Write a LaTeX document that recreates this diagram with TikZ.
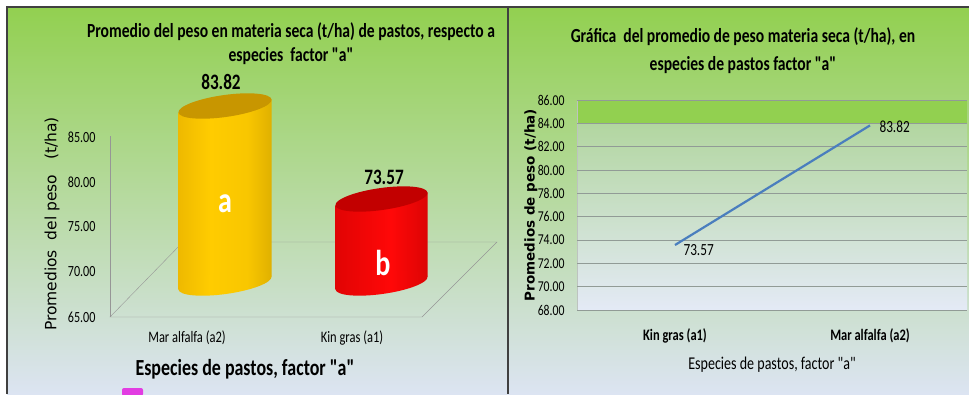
\documentclass[tikz,border=0pt]{standalone}
\usepackage{fontspec}
\usetikzlibrary{calc}
\setmainfont{Carlito}
\newfontfamily\narrowfont[FakeStretch=0.78]{Carlito}
\newfontfamily\verdfont{DejaVu Sans}
\definecolor{bggreen}{RGB}{146,208,80}
\definecolor{bgmid}{RGB}{182,212,190}
\definecolor{bgblue}{RGB}{220,228,242}
\definecolor{goldleft}{RGB}{214,158,0}
\definecolor{goldlight}{RGB}{255,204,0}
\definecolor{goldright}{RGB}{176,134,0}
\definecolor{goldtop}{RGB}{200,150,0}
\definecolor{redleft}{RGB}{200,0,0}
\definecolor{redlight}{RGB}{255,8,8}
\definecolor{redright}{RGB}{176,0,0}
\definecolor{redtop}{RGB}{194,0,0}
\definecolor{floorgray}{RGB}{150,150,150}
\definecolor{gridgray}{RGB}{145,155,150}
\definecolor{plottop}{RGB}{178,214,160}
\definecolor{plotbot}{RGB}{228,234,246}
\definecolor{lineblue}{RGB}{74,126,190}
\definecolor{pinkbox}{RGB}{226,60,226}
\pgfdeclarehorizontalshading{goldcyl}{100bp}{color(0bp)=(goldleft); color(42bp)=(goldlight); color(62bp)=(goldlight!92!goldright); color(100bp)=(goldright)}
\pgfdeclarehorizontalshading{redcyl}{100bp}{color(0bp)=(redleft); color(55bp)=(redlight); color(100bp)=(redright)}
\tikzset{
  frame/.style={draw=black!75,line width=1.2pt},
  charttitle/.style={align=center,font=\narrowfont\bfseries\fontsize{20}{24}\selectfont},
  valnum/.style={font=\narrowfont\bfseries\fontsize{22}{22}\selectfont},
  barletter/.style={text=white,font=\narrowfont\bfseries\fontsize{36}{36}\selectfont},
  ticklab/.style={anchor=east,font=\narrowfont\fontsize{15.5}{15.5}\selectfont},
  catlab/.style={font=\narrowfont\fontsize{16}{16}\selectfont}
}
\begin{document}
\begin{tikzpicture}[x=1pt,y=-1pt]
\useasboundingbox (0,0) rectangle (969,394);
% panels
\shade[top color=bggreen,middle color=bgmid,bottom color=bgblue] (7,7) rectangle (508,394);
\shade[top color=bggreen,middle color=bgmid,bottom color=bgblue] (508,7) rectangle (969,394);
\draw[frame] (7,394) -- (7,7) -- (969,7);
\draw[frame] (508,7) -- (508,394);
\fill[pinkbox,rounded corners=2pt] (122,388) rectangle (143,396);

% left chart: 3d cylinders
\node[charttitle] (ltitle) at (291,44) {Promedio del peso en materia seca (t/ha) de pastos, respecto a\\especies\ \ factor "a"};
\coordinate (f1) at (110,317);
\coordinate (f2) at (422,317);
\coordinate (f3) at (497,242);
\coordinate (f4) at (183,242);
\draw[floorgray] (f1) -- (f2) -- (f3) -- (f4) -- cycle;
\draw[floorgray] (110,136) -- (f1);
\foreach \v [count=\i] in {85.00,80.00,75.00,70.00,65.00}
  \node[ticklab] (lt\i) at (99,{137+45*(\i-1)}) {\v};
\node[rotate=90,font=\verdfont\fontsize{15.5}{15.5}\selectfont] (lytitle) at (52,224) {Promedios\ \ del peso\ \ \ (t/ha)};
% yellow cylinder
\coordinate (ya) at (225,106);
\coordinate (yb) at (225,283);
\shade[shading=goldcyl] ($(ya)+(172:47)$) -- ($(yb)+(172:47)$) -- ($(yb)+(-8:47)$) -- ($(ya)+(-8:47)$) -- cycle;
\shade[shading=goldcyl,rotate around={8:(yb)}] (yb) ellipse[x radius=47,y radius=11];
\fill[goldtop,rotate around={8:(ya)}] (ya) ellipse[x radius=47,y radius=11];
% red cylinder
\coordinate (ra) at (381.5,199);
\coordinate (rb) at (381.5,283);
\shade[shading=redcyl] ($(ra)+(172:46.5)$) -- ($(rb)+(172:46.5)$) -- ($(rb)+(-8:46.5)$) -- ($(ra)+(-8:46.5)$) -- cycle;
\shade[shading=redcyl,rotate around={8:(rb)}] (rb) ellipse[x radius=46.5,y radius=11];
\fill[redtop,rotate around={8:(ra)}] (ra) ellipse[x radius=46.5,y radius=11];
\node[valnum] (lv1) at (221,82) {83.82};
\node[valnum] (lv2) at (384,177) {73.57};
\node[barletter] (la) at (225,204) {a};
\node[barletter] (lb) at (383,263) {b};
\node[catlab] (lc1) at (187,338) {Mar alfalfa (a2)};
\node[catlab] (lc2) at (352,338) {Kin gras (a1)};
\node[font=\narrowfont\bfseries\fontsize{23}{23}\selectfont] (lxtitle) at (245,369) {Especies de pastos, factor "a"};

% right chart: line
\node[charttitle,font=\narrowfont\bfseries\fontsize{20}{28}\selectfont] (rtitle) at (743,51) {Gráfica\ \ del promedio de peso materia seca (t/ha), en\\especies de pastos factor "a"};
\fill[bggreen] (577,100) rectangle (967,123.3);
\shade[top color=plottop,bottom color=plotbot] (577,123.3) rectangle (967,310);
\draw[gridgray!60] (577,100) -- (577,310);
\foreach \v [count=\i] in {68,70,...,86}{
  \draw[gridgray] (577,{310-(\v-68)*35/3}) -- (967,{310-(\v-68)*35/3});
  \node[ticklab,font=\narrowfont\fontsize{15}{15}\selectfont] (rt\i) at (568,{310-(\v-68)*35/3}) {\v.00};
}
\node[rotate=90,font=\verdfont\bfseries\fontsize{13.5}{13.5}\selectfont] (rytitle) at (531,205) {Promedios de peso (t/ha)};
\coordinate (pk) at (675,245);
\coordinate (pm) at (870,125.4);
\draw[lineblue,line width=2.2pt] (pk) -- (pm);
\node[anchor=west,font=\narrowfont\fontsize{17}{17}\selectfont] (rv1) at (680,250) {73.57};
\node[anchor=west,font=\narrowfont\fontsize{17}{17}\selectfont] (rv2) at (876,127) {83.82};
\node[font=\narrowfont\bfseries\fontsize{16}{16}\selectfont] (rc1) at (675,336) {Kin gras (a1)};
\node[font=\narrowfont\bfseries\fontsize{16}{16}\selectfont] (rc2) at (870,336) {Mar alfalfa (a2)};
\node[font=\narrowfont\fontsize{18}{18}\selectfont] (rxtitle) at (772,365) {Especies de pastos, factor "a"};
\end{tikzpicture}
\end{document}
